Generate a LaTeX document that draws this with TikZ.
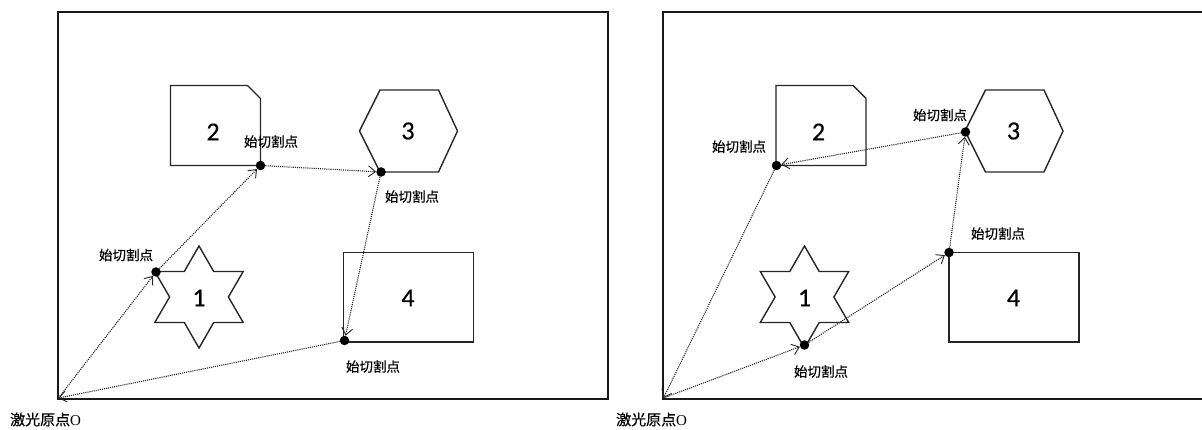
\documentclass[tikz,border=0pt]{standalone}
\usepackage{fontspec}
\setmainfont{Carlito}
\newfontfamily\cjk[FakeBold=0.5]{Noto Sans CJK SC}
\newfontfamily\digitfont[FakeBold=0.4]{Carlito}
\newfontfamily\serifo{Liberation Serif}
\usetikzlibrary{arrows.meta}
\tikzset{
  frame/.style={line width=2pt, black!90},
  shapeline/.style={line width=1.4pt, black!85, line join=miter},
  digit/.style={font=\digitfont\fontsize{26}{26}\selectfont, inner sep=0pt},
  cutlabel/.style={font=\cjk\fontsize{13.5}{14}\selectfont, inner sep=0pt},
  origlabel/.style={font=\cjk\fontsize{15}{16}\selectfont, inner sep=0pt},
  dot/.style={circle, fill=black, inner sep=0pt, minimum size=9.5pt},
  path/.style={densely dotted, line width=1.1pt, black!85, -{Straight Barb[length=7pt,width=11pt,line width=0.9pt]}},
}
\begin{document}
\begin{tikzpicture}[x=1pt, y=-1pt]
\useasboundingbox (0,0) rectangle (1202,430);

% ---------- left panel ----------
\draw[frame] (58,12) rectangle (608,398.5);
\draw[shapeline] (170.5,85.5) -- (247.5,85.5) -- (260.5,98.5) -- (260.5,165.5) -- (170.5,165.5) -- cycle;
\draw[shapeline] (380,90) -- (438.5,90) -- (457.5,131) -- (438.5,172) -- (380,172) -- (359.5,131) -- cycle;
\draw[shapeline] (199,246) -- (213.7,271.5) -- (243.2,271.5) -- (228.4,297) -- (243.2,322.5) -- (213.7,322.5)
  -- (199,348) -- (184.3,322.5) -- (154.8,322.5) -- (169.6,297) -- (154.8,271.5) -- (184.3,271.5) -- cycle;
\draw[shapeline] (343.5,252.5) rectangle (473.5,342);
\node[digit] (Ln1) at (199,298) {1};
\node[digit] (Ln2) at (213,132) {2};
\node[digit] (Ln3) at (408,131) {3};
\node[digit] (Ln4) at (408,298) {4};

\coordinate (LO) at (58.5,398);
\node[dot] (Ld1) at (156,272) {};
\node[dot] (Ld2) at (260.5,165.5) {};
\node[dot] (Ld3) at (381,172) {};
\node[dot] (Ld4) at (344.5,340.5) {};
\draw[path] (LO) -- (Ld1);
\draw[path] (Ld1) -- (Ld2);
\draw[path] (Ld2) -- (Ld3);
\draw[path] (Ld3) -- (Ld4);
\draw[path] (Ld4) -- (LO);

\node[cutlabel] (Ll1) at (126,255) {始切割点};
\node[cutlabel] (Ll2) at (271,141.5) {始切割点};
\node[cutlabel] (Ll3) at (412,196.5) {始切割点};
\node[cutlabel] (Ll4) at (373,366.5) {始切割点};
\node[origlabel, anchor=west] (Lorig) at (10,419.5) {激光原点{\serifo O}};

% ---------- right panel ----------
\draw[frame] (1203,12) -- (663,12) -- (663,398.5) -- (1203,398.5);
\draw[shapeline] (776,85.5) -- (853,85.5) -- (866,98.5) -- (866,165.5) -- (776,165.5) -- cycle;
\draw[shapeline] (985.5,90) -- (1044,90) -- (1063,131) -- (1044,172) -- (985.5,172) -- (965,131) -- cycle;
\draw[shapeline] (804.5,246) -- (819.2,271.5) -- (848.7,271.5) -- (833.9,297) -- (848.7,322.5) -- (819.2,322.5)
  -- (804.5,348) -- (789.8,322.5) -- (760.3,322.5) -- (775.1,297) -- (760.3,271.5) -- (789.8,271.5) -- cycle;
\draw[shapeline] (949,252.5) rectangle (1079,342);
\node[digit] (Rn1) at (804.5,298) {1};
\node[digit] (Rn2) at (818.5,132) {2};
\node[digit] (Rn3) at (1013.5,131) {3};
\node[digit] (Rn4) at (1013.5,298) {4};

\coordinate (RO) at (663.5,398);
\node[dot] (Rd1) at (804.5,345) {};
\node[dot] (Rd2) at (949,252.5) {};
\node[dot] (Rd3) at (965.5,132) {};
\node[dot] (Rd4) at (776.5,165.5) {};
\draw[path] (RO) -- (Rd1);
\draw[path] (Rd1) -- (Rd2);
\draw[path] (Rd2) -- (Rd3);
\draw[path] (Rd3) -- (Rd4);
\draw[path] (Rd4) -- (RO);

\node[cutlabel] (Rl1) at (821,371.5) {始切割点};
\node[cutlabel] (Rl2) at (998,233.5) {始切割点};
\node[cutlabel] (Rl3) at (940,115) {始切割点};
\node[cutlabel] (Rl4) at (739,146.5) {始切割点};
\node[origlabel, anchor=west] (Rorig) at (616,419.5) {激光原点{\serifo O}};
\end{tikzpicture}
\end{document}
